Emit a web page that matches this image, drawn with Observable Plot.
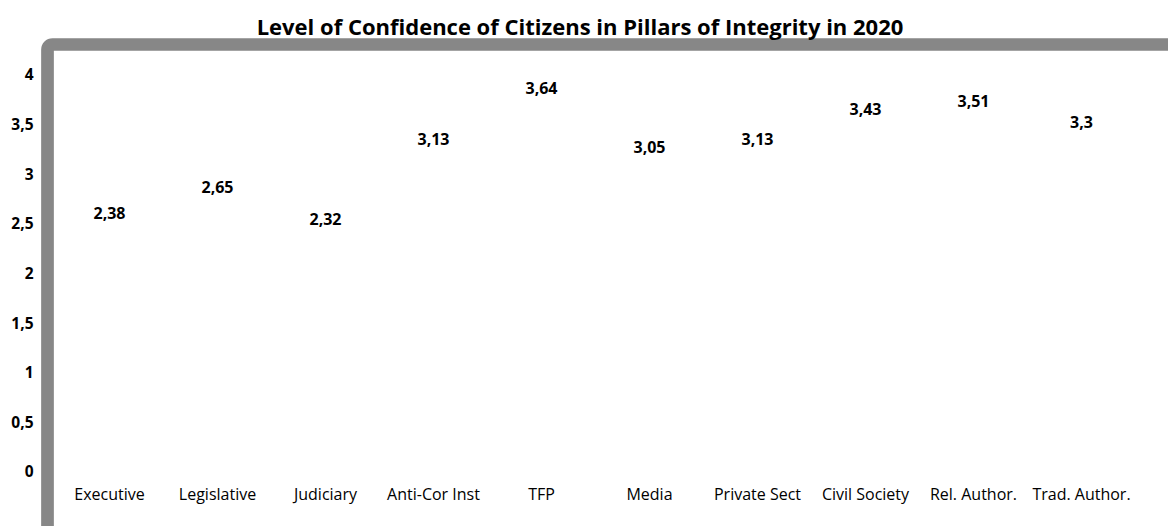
<!DOCTYPE html>
<html>
<head>
<meta charset="utf-8">
<script src="https://cdn.jsdelivr.net/npm/d3@7"></script>
<script src="https://cdn.jsdelivr.net/npm/@observablehq/plot@0.6"></script>
<style>
  html, body { margin: 0; padding: 0; background: #fff; overflow: hidden; }
  #chart { width: 1168px; height: 526px; overflow: hidden; }
</style>
</head>
<body>
<div id="chart"></div>
<script>
const title = "Level of Confidence of Citizens in Pillars of Integrity in 2020";
const categories = ["Executive", "Legislative", "Judiciary", "Anti-Cor Inst", "TFP", "Media", "Private Sect", "Civil Society", "Rel. Author.", "Trad. Author."];
const values = [2.38, 2.65, 2.32, 3.13, 3.64, 3.05, 3.13, 3.43, 3.51, 3.3];
const yTicks = [0, 0.5, 1, 1.5, 2, 2.5, 3, 3.5, 4];

const data = categories.map((c, i) => ({category: c, value: values[i]}));
const fmt = d => String(d).replace(".", ",");

const chart = Plot.plot({
  width: 1168,
  height: 526,
  marginTop: 44,
  marginLeft: 47,
  marginRight: 0,
  marginBottom: 54,
  style: {fontFamily: "'Open Sans', sans-serif", color: "#000", background: "#fff", overflow: "hidden"},
  x: {type: "point", domain: categories, range: [104.5, 1085], padding: 0},
  y: {domain: [0, 4], range: [472, 75]},
  marks: [
    Plot.frame({stroke: "#878787", strokeWidth: 12.7, rx: 5, insetRight: -30, insetBottom: -90}),
    Plot.axisY({ticks: yTicks, tickSize: 0, tickPadding: 14, tickFormat: fmt, fontSize: 15.5, fontWeight: "bold", label: null}),
    Plot.axisX({tickSize: 0, tickPadding: 16, fontSize: 16, label: null}),
    Plot.text(data, {x: "category", y: "value", text: d => fmt(d.value), dy: -22, fontSize: 16, fontWeight: "bold", fill: "#000"}),
    Plot.text([title], {text: d => d, frameAnchor: "top", lineAnchor: "bottom", dx: -28, dy: -10, fontSize: 22, fontWeight: "bold", fill: "#000"})
  ]
});
document.getElementById("chart").appendChild(chart);
</script>
</body>
</html>
